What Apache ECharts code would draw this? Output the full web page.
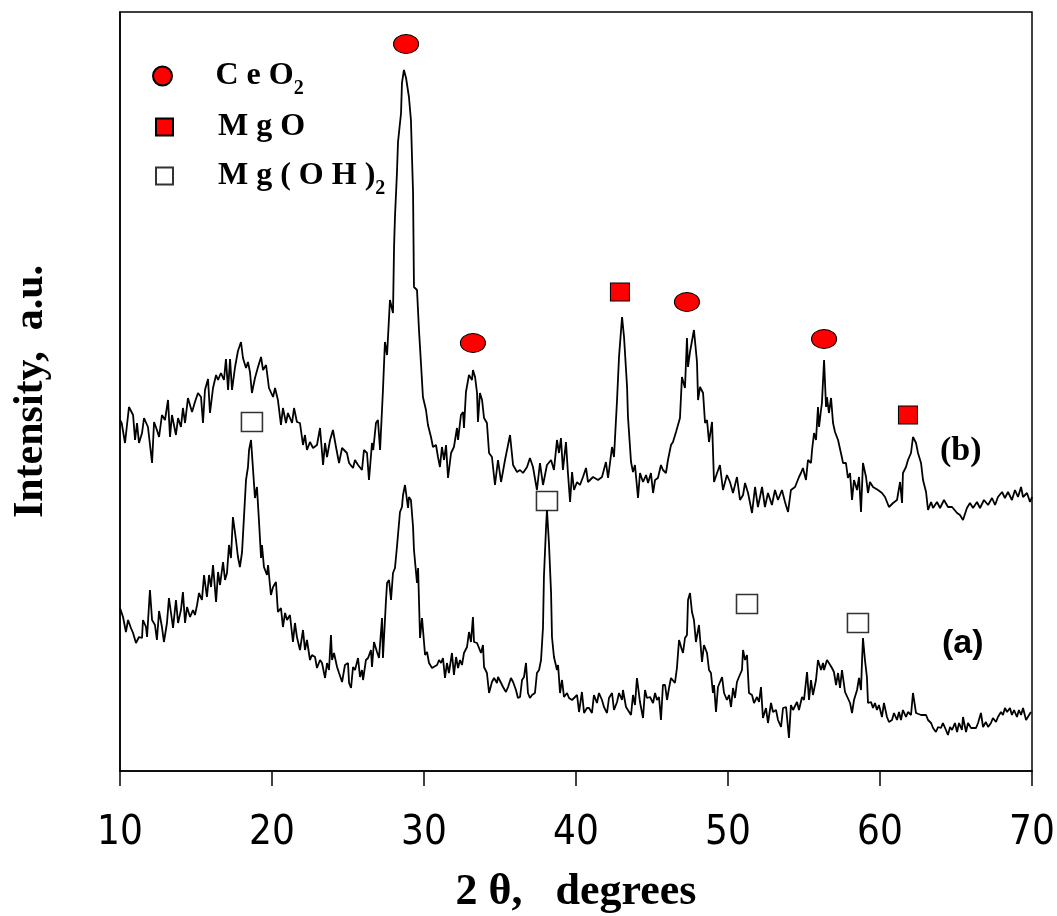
<!DOCTYPE html>
<html>
<head>
<meta charset="utf-8">
<script src="https://cdn.jsdelivr.net/npm/echarts@6/dist/echarts.min.js"></script>
<style>
  html, body { margin: 0; padding: 0; background: #fff; }
  #main { width: 1057px; height: 916px; }
</style>
</head>
<body>
<div id="main"></div>
<script>
// x axis ticks
const xTicks = [10, 20, 30, 40, 50, 60, 70];

// trace (b): 2θ (deg) and intensity (a.u.)
const angleB = [10.00,10.11,10.33,10.59,10.86,10.99,11.12,11.25,11.45,11.58,11.84,12.11,12.24,12.43,12.57,12.76,12.96,13.16,13.29,13.42,13.68,13.82,14.01,14.14,14.28,14.47,14.74,14.93,15.13,15.33,15.46,15.59,15.79,15.92,16.12,16.32,16.45,16.64,16.84,16.97,17.11,17.24,17.37,17.57,17.76,17.96,18.09,18.29,18.42,18.55,18.68,18.88,19.08,19.28,19.41,19.61,19.80,20.07,20.20,20.39,20.59,20.72,20.92,21.05,21.32,21.45,21.64,21.84,22.04,22.17,22.30,22.50,22.70,22.96,23.16,23.36,23.49,23.62,23.82,24.01,24.21,24.41,24.61,24.93,25.07,25.33,25.46,25.66,25.92,26.05,26.25,26.38,26.58,26.66,26.84,26.97,27.11,27.30,27.43,27.57,27.76,27.96,28.03,28.09,28.22,28.29,28.49,28.55,28.68,28.82,28.88,29.01,29.14,29.28,29.34,29.54,29.67,29.80,29.93,30.13,30.26,30.46,30.59,30.79,30.92,31.05,31.18,31.32,31.45,31.58,31.78,31.97,32.17,32.24,32.43,32.57,32.63,32.76,32.89,32.96,33.16,33.22,33.36,33.49,33.55,33.68,33.82,33.95,34.14,34.28,34.47,34.67,34.87,35.07,35.33,35.66,35.86,36.12,36.32,36.51,36.78,36.97,37.17,37.43,37.63,37.83,38.09,38.36,38.55,38.75,38.88,39.01,39.14,39.34,39.47,39.61,39.74,39.87,40.07,40.26,40.46,40.66,40.79,41.12,41.45,41.71,41.97,42.11,42.37,42.50,42.70,42.83,43.03,43.16,43.36,43.42,43.62,43.75,43.88,44.08,44.21,44.41,44.61,44.74,44.93,45.07,45.20,45.39,45.59,45.72,45.92,46.05,46.25,46.38,46.58,46.71,46.84,46.97,47.17,47.30,47.37,47.50,47.63,47.76,47.96,48.03,48.16,48.36,48.49,48.62,48.75,48.95,49.08,49.28,49.47,49.67,49.93,50.13,50.33,50.59,50.79,50.99,51.12,51.32,51.58,51.78,51.97,52.24,52.43,52.63,52.89,53.09,53.29,53.55,53.75,53.95,54.14,54.41,54.67,54.80,54.93,55.13,55.26,55.46,55.53,55.66,55.79,55.92,55.99,56.12,56.18,56.32,56.45,56.51,56.64,56.78,56.91,57.04,57.24,57.43,57.57,57.76,57.89,58.03,58.16,58.29,58.49,58.62,58.75,58.88,59.08,59.21,59.34,59.54,59.67,59.87,60.13,60.33,60.59,60.86,61.12,61.32,61.45,61.51,61.71,61.84,62.04,62.17,62.37,62.50,62.70,62.83,63.03,63.16,63.36,63.49,63.75,63.95,64.21,64.47,64.74,65.07,65.26,65.46,65.72,65.92,66.12,66.38,66.58,66.84,67.11,67.37,67.57,67.76,68.03,68.22,68.42,68.68,68.88,69.08,69.28,69.41,69.67,69.87,70.00];
const intensityB = [351,348,328,364,356,331,348,328,338,353,344,308,349,341,334,356,351,371,334,356,336,353,344,363,348,373,359,369,378,374,348,381,392,358,383,396,391,398,391,412,381,412,381,404,420,429,413,403,409,399,378,393,404,414,401,406,383,374,383,371,346,363,348,358,348,363,349,348,326,336,321,329,323,326,343,306,328,314,331,341,324,308,323,318,308,303,311,306,301,321,318,291,328,321,348,351,321,381,429,416,471,458,524,554,598,629,658,688,701,693,692,674,651,578,484,481,441,408,374,361,346,334,324,326,314,304,324,311,326,293,318,324,343,331,356,359,343,379,378,396,391,401,394,378,349,378,371,353,348,318,314,286,311,289,311,336,306,299,301,298,304,313,304,281,308,286,306,311,301,331,318,333,301,329,298,269,299,281,289,286,294,303,289,294,291,294,309,293,324,314,371,414,454,434,384,354,309,299,306,273,298,289,296,288,298,278,291,293,306,301,298,311,326,329,339,341,353,394,383,433,404,419,421,441,409,371,384,378,348,351,329,349,289,298,306,281,296,289,278,294,271,276,288,278,258,284,264,284,264,278,266,281,271,281,269,259,281,284,294,298,303,291,311,308,321,338,331,364,344,361,368,411,364,374,358,373,348,339,331,318,308,308,293,298,271,291,281,294,259,308,294,278,289,284,284,281,278,274,264,268,271,289,268,298,304,311,318,334,328,318,308,291,279,261,269,263,269,263,271,264,264,258,256,251,263,268,263,269,263,271,266,273,266,274,279,273,279,271,281,274,284,274,278,269,274];

// trace (a)
const angleA = [10.00,10.20,10.39,10.53,10.72,10.86,11.05,11.25,11.45,11.51,11.71,11.78,11.97,12.11,12.30,12.43,12.57,12.76,12.89,13.09,13.22,13.42,13.49,13.68,13.82,14.01,14.14,14.28,14.41,14.61,14.80,14.93,15.07,15.20,15.39,15.53,15.72,15.86,15.99,16.12,16.32,16.45,16.58,16.78,16.91,17.04,17.17,17.30,17.43,17.63,17.76,17.89,18.03,18.09,18.29,18.42,18.49,18.62,18.75,18.88,19.01,19.14,19.28,19.34,19.47,19.67,19.74,19.93,20.07,20.26,20.39,20.59,20.72,20.86,20.99,21.18,21.38,21.51,21.64,21.84,22.04,22.17,22.30,22.50,22.63,22.83,22.96,23.16,23.29,23.49,23.62,23.75,23.88,23.95,24.08,24.28,24.41,24.61,24.80,25.00,25.07,25.20,25.33,25.46,25.66,25.79,25.92,25.99,26.18,26.32,26.51,26.58,26.71,26.91,27.04,27.24,27.30,27.50,27.57,27.70,27.83,27.96,28.09,28.22,28.29,28.42,28.55,28.62,28.75,28.88,28.95,29.01,29.14,29.28,29.34,29.54,29.61,29.74,29.87,29.93,30.07,30.20,30.33,30.53,30.66,30.86,30.99,31.12,31.25,31.38,31.51,31.64,31.84,31.97,32.11,32.24,32.37,32.50,32.63,32.83,32.96,33.09,33.22,33.29,33.49,33.62,33.75,33.88,33.95,34.14,34.28,34.47,34.61,34.80,34.87,35.07,35.20,35.39,35.53,35.72,35.86,36.05,36.18,36.32,36.45,36.58,36.71,36.84,36.97,37.11,37.30,37.43,37.57,37.70,37.83,37.89,38.03,38.09,38.22,38.36,38.42,38.55,38.75,38.82,38.95,39.08,39.21,39.41,39.54,39.74,39.87,40.07,40.20,40.39,40.53,40.72,40.86,41.05,41.18,41.38,41.51,41.71,41.84,42.04,42.17,42.37,42.50,42.70,42.83,43.03,43.09,43.29,43.42,43.62,43.75,43.88,44.01,44.21,44.41,44.54,44.67,44.87,45.07,45.20,45.33,45.46,45.59,45.72,45.86,45.99,46.12,46.25,46.38,46.51,46.64,46.78,46.97,47.04,47.17,47.30,47.37,47.50,47.63,47.76,47.89,48.03,48.09,48.29,48.42,48.62,48.75,48.88,49.01,49.08,49.21,49.34,49.61,49.74,49.93,50.07,50.20,50.33,50.46,50.59,50.72,50.92,50.99,51.12,51.25,51.38,51.58,51.71,51.91,52.04,52.17,52.30,52.50,52.63,52.83,52.96,53.16,53.29,53.49,53.62,53.82,54.01,54.14,54.28,54.54,54.67,54.87,55.00,55.20,55.33,55.46,55.59,55.79,55.92,56.12,56.25,56.32,56.51,56.64,56.84,56.97,57.11,57.24,57.37,57.50,57.70,57.83,58.03,58.16,58.29,58.49,58.62,58.75,58.82,58.88,59.01,59.14,59.21,59.41,59.54,59.67,59.80,59.93,60.13,60.26,60.46,60.59,60.79,60.92,61.12,61.25,61.38,61.51,61.71,61.84,62.04,62.17,62.37,62.50,62.70,62.83,63.03,63.16,63.36,63.49,63.68,63.82,64.01,64.14,64.34,64.47,64.61,64.74,64.93,65.07,65.20,65.39,65.46,65.66,65.79,65.99,66.12,66.32,66.45,66.64,66.78,66.97,67.11,67.30,67.43,67.63,67.76,67.96,68.09,68.22,68.36,68.55,68.68,68.82,69.01,69.14,69.28,69.41,69.61,69.74,69.93];
const intensityA = [163,154,139,151,143,138,128,134,133,151,144,134,181,151,146,131,160,144,129,148,173,151,143,171,148,161,179,148,164,154,161,156,166,178,171,196,174,196,184,206,169,199,186,209,191,198,226,213,254,231,214,204,219,218,291,304,321,331,329,273,284,251,213,226,204,196,206,176,184,189,159,163,144,158,151,156,129,148,134,121,141,121,131,111,116,114,103,111,108,93,108,101,136,111,118,104,98,89,106,108,88,83,104,101,113,94,101,91,111,113,121,104,129,119,113,153,113,171,188,191,171,198,203,224,226,259,264,276,286,287,263,274,271,244,221,188,203,133,153,154,116,119,108,103,101,106,111,108,113,93,108,98,118,96,114,103,111,106,118,124,139,129,154,129,128,126,118,126,104,98,78,89,93,88,94,88,84,79,84,93,89,81,73,74,91,94,108,78,73,76,78,98,101,111,144,194,244,261,228,178,134,114,101,106,78,91,74,78,73,71,69,76,59,79,58,63,63,58,76,68,78,71,64,58,73,78,61,69,78,71,81,64,63,56,76,66,93,69,53,81,73,74,68,78,71,74,51,86,86,71,83,93,94,88,103,131,121,118,133,136,171,178,159,151,129,141,146,109,126,118,101,98,78,86,59,84,94,78,71,76,64,83,73,89,94,101,121,111,116,78,76,68,74,69,84,53,63,48,68,59,61,51,44,63,64,33,66,61,69,61,74,71,99,71,91,76,91,111,101,108,101,111,108,103,99,86,98,83,101,79,78,68,58,71,81,93,81,111,133,111,94,68,69,63,68,61,66,54,68,54,49,51,58,51,59,51,61,54,59,56,78,58,59,56,54,56,51,48,43,39,44,43,48,41,36,44,41,48,39,48,41,54,39,48,43,44,43,48,58,44,49,44,48,53,49,54,59,56,63,59,63,56,61,54,61,56,63,51,49,59];

// phase markers: [2θ, height]
const ceo2Marks = [[28.82, 727], [33.22, 428], [47.30, 469], [56.32, 432]];
const mgoMarks = [[42.89, 479], [61.84, 356]];
const mgoh2Marks = [[18.68, 349], [38.09, 270], [51.25, 167], [58.55, 148]];

const serif = "'Liberation Serif', 'Times New Roman', serif";
const narrow = "'Liberation Sans Narrow', 'DejaVu Sans Condensed', 'Liberation Sans', sans-serif";
const ellipse = 'path://M0,10a10,10 0 1,0 20,0a10,10 0 1,0 -20,0';

const zip = (xs, ys) => xs.map((x, i) => [x, ys[i]]);

const legendText = {
  fontFamily: serif, fontWeight: 'bold', fontSize: 32, color: '#000',
  lineHeight: 46, padding: [0, 0, 0, 36],
  rich: {
    s: { fontFamily: serif, fontWeight: 'bold', fontSize: 20, lineHeight: 20, verticalAlign: 'bottom', color: '#000' }
  }
};
const legendNames = { 'CeO2': 'C e O{s|2}', 'MgO': 'M g O', 'Mg(OH)2': 'M g ( O H ){s|2}' };

const chart = echarts.init(document.getElementById('main'));
chart.setOption({
  animation: false,
  backgroundColor: '#fff',
  grid: { left: 120, right: 25, top: 12, bottom: 145, outerBoundsMode: 'none',
    show: true, borderColor: '#000', borderWidth: 1.5 },
  legend: [
    { data: ['CeO2'], left: 152, top: 53, padding: 0, itemWidth: 24, itemHeight: 19,
      formatter: n => legendNames[n], textStyle: legendText },
    { data: ['MgO'], left: 155, top: 104, padding: 0, itemWidth: 17, itemHeight: 17,
      formatter: n => legendNames[n], textStyle: Object.assign({}, legendText, { padding: [0, 0, 0, 40] }) },
    { data: ['Mg(OH)2'], left: 155, top: 153, padding: 0, itemWidth: 17, itemHeight: 17,
      formatter: n => legendNames[n], textStyle: Object.assign({}, legendText, { padding: [0, 0, 0, 40] }) }
  ],
  xAxis: {
    type: 'value', min: xTicks[0], max: xTicks[xTicks.length - 1], interval: 10,
    name: '2 θ,   degrees', nameLocation: 'middle', nameGap: 100,
    nameTextStyle: { fontFamily: serif, fontWeight: 'bold', fontSize: 44, color: '#000' },
    axisLine: { lineStyle: { color: '#000', width: 1.5 } },
    axisTick: { length: 15, lineStyle: { color: '#000', width: 1.5 } },
    axisLabel: { margin: 43, fontSize: 40, color: '#000', fontFamily: narrow },
    splitLine: { show: false }
  },
  yAxis: {
    type: 'value', min: 0, max: 759,
    name: 'Intensity,  a.u.', nameLocation: 'middle', nameRotate: 90, nameGap: 68,
    nameTextStyle: { fontFamily: serif, fontWeight: 'bold', fontSize: 42, color: '#000' },
    axisLine: { show: true, lineStyle: { color: '#000', width: 1.5 } },
    axisTick: { show: false }, axisLabel: { show: false }, splitLine: { show: false }
  },
  series: [
    { name: 'b', type: 'line', data: zip(angleB, intensityB), showSymbol: false, symbol: 'none',
      lineStyle: { color: '#000', width: 1.8 } },
    { name: 'a', type: 'line', data: zip(angleA, intensityA), showSymbol: false, symbol: 'none',
      lineStyle: { color: '#000', width: 1.8 } },
    { name: 'CeO2', type: 'scatter', data: ceo2Marks, symbol: ellipse, symbolSize: [25, 19],
      itemStyle: { color: '#ff0000', borderColor: '#000', borderWidth: 1, opacity: 1 } },
    { name: 'MgO', type: 'scatter', data: mgoMarks, symbol: 'rect', symbolSize: [19, 18],
      itemStyle: { color: '#ff0000', borderColor: '#000', borderWidth: 1, opacity: 1 } },
    { name: 'Mg(OH)2', type: 'scatter', data: mgoh2Marks, symbol: 'rect', symbolSize: [21, 19],
      itemStyle: { color: '#fff', borderColor: '#333', borderWidth: 1.5, opacity: 1 } }
  ],
  graphic: [
    { type: 'text', left: 940, top: 434, style: { text: '(b)', fontFamily: serif, fontWeight: 'bold', fontSize: 34, fill: '#000' } },
    { type: 'text', left: 942, top: 627, style: { text: '(a)', fontFamily: "'Liberation Sans', Arial, sans-serif", fontWeight: 'bold', fontSize: 34, fill: '#000' } }
  ]
});
</script>
</body>
</html>
